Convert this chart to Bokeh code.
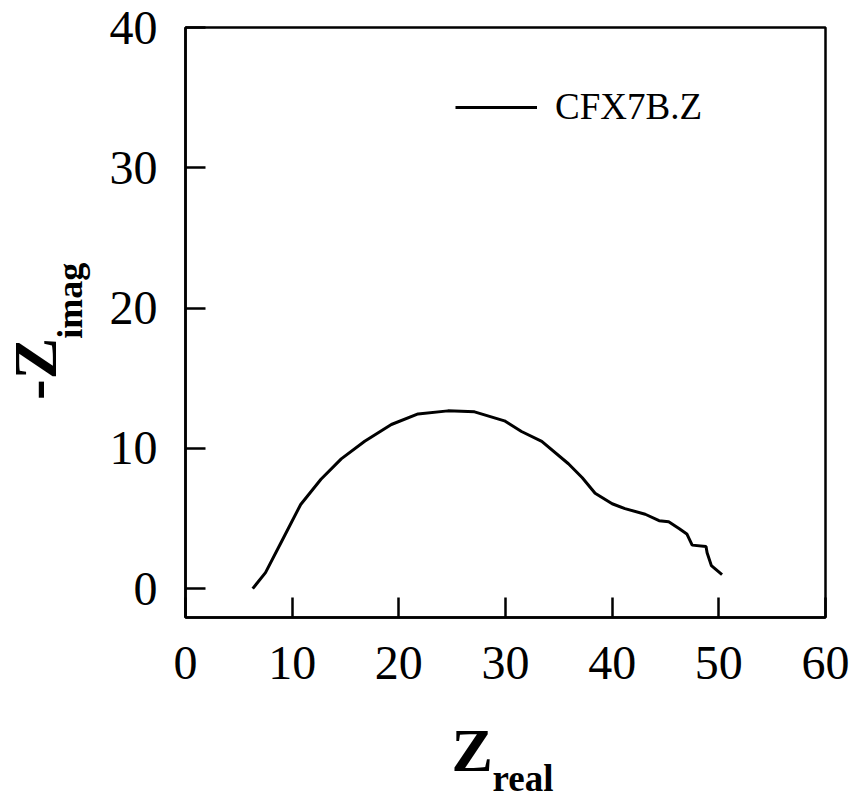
import math
from bokeh.plotting import figure
from bokeh.layouts import column, row
from bokeh.models import FixedTicker, Label, Legend, LegendItem, Range1d
from bokeh.embed import file_html
from bokeh.resources import INLINE

# ---- data ----
z_real = [6.3, 7.5, 8.9, 10.8, 12.7, 14.6, 16.8, 19.3, 21.8, 24.6, 27.1, 29.9,
          31.5, 33.4, 35.9, 37.2, 38.4, 40.0, 41.2, 43.1, 44.4, 45.3, 46.3,
          47.0, 47.5, 48.8, 48.9, 49.3, 50.3]
z_imag = [0.0, 1.14, 3.2, 6.0, 7.8, 9.25, 10.5, 11.7, 12.45, 12.67, 12.6, 11.96,
          11.2, 10.5, 8.9, 7.9, 6.8, 6.05, 5.7, 5.3, 4.84, 4.77, 4.27,
          3.9, 3.1, 3.0, 2.56, 1.64, 1.0]
x_ticks = [0, 10, 20, 30, 40, 50, 60]
y_ticks = [0, 10, 20, 30, 40]
series_name = "CFX7B.Z"
x_title, x_sub = "Z", "real"
y_title, y_sub = "-Z", "imag"

FONT = "Liberation Serif"
LEFT_W, MAIN_W, TOP_H, BOT_H = 100, 753, 705, 95

# ---- main plot ----
p = figure(width=MAIN_W, height=TOP_H, output_backend="svg", toolbar_location=None,
           x_range=Range1d(0, 60), y_range=Range1d(-2.06, 40),
           min_border_left=85, min_border_right=28,
           min_border_top=27, min_border_bottom=88)
p.background_fill_color = "white"
p.border_fill_color = "white"
p.xgrid.visible = False
p.ygrid.visible = False
p.outline_line_color = "black"
p.outline_line_width = 2.5

for ax, ticks in ((p.xaxis[0], x_ticks), (p.yaxis[0], y_ticks)):
    ax.ticker = FixedTicker(ticks=ticks)
    ax.major_tick_in = 20
    ax.major_tick_out = 0
    ax.minor_tick_in = 0
    ax.minor_tick_out = 0
    ax.major_tick_line_width = 2.5
    ax.major_tick_line_color = "black"
    ax.axis_line_width = 2.5
    ax.axis_line_color = "black"
    ax.major_label_text_font = FONT
    ax.major_label_text_font_size = "48px"
    ax.major_label_text_color = "black"
p.xaxis.major_label_standoff = 29
p.yaxis.major_label_standoff = 28

r = p.line(z_real, z_imag, line_color="black", line_width=3)

legend = Legend(items=[LegendItem(label=series_name, renderers=[r])],
                location=(270, 489), padding=0, margin=0, spacing=0,
                glyph_width=82, glyph_height=30, label_standoff=18,
                label_text_font=FONT, label_text_font_size="37px",
                label_text_color="black",
                border_line_alpha=0, background_fill_alpha=0)
p.add_layout(legend)


def label_fig(w, h):
    f = figure(width=w, height=h, output_backend="svg", toolbar_location=None,
               x_range=Range1d(0, w), y_range=Range1d(h, 0),
               x_axis_type=None, y_axis_type=None,
               min_border=0, min_border_left=0, min_border_right=0,
               min_border_top=0, min_border_bottom=0)
    f.grid.visible = False
    f.outline_line_color = None
    f.background_fill_color = "white"
    f.border_fill_color = "white"
    return f


# ---- y-axis title (left strip) ----
yl = label_fig(LEFT_W, TOP_H)
yl.add_layout(Label(x=34, y=445, text=y_title, text_font=FONT,
                    text_font_size="62px", text_font_style="bold",
                    angle=math.pi / 2, text_align="left",
                    text_baseline="alphabetic", text_color="black"))
yl.add_layout(Label(x=69, y=372, text=y_sub, text_font=FONT,
                    text_font_size="36px", text_font_style="bold",
                    angle=math.pi / 2, text_align="left",
                    text_baseline="alphabetic", text_color="black"))

# ---- x-axis title (bottom strip) ----
xl = label_fig(LEFT_W + MAIN_W, BOT_H)
xl.add_layout(Label(x=451, y=44, text=x_title, text_font=FONT,
                    text_font_size="62px", text_font_style="bold",
                    text_align="left", text_baseline="alphabetic",
                    text_color="black"))
xl.add_layout(Label(x=492, y=73, text=x_sub, text_font=FONT,
                    text_font_size="37px", text_font_style="bold",
                    text_align="left", text_baseline="alphabetic",
                    text_color="black"))

layout = column(row(yl, p, spacing=0), xl, spacing=0)

open("out.html", "w").write(file_html(layout, INLINE))
